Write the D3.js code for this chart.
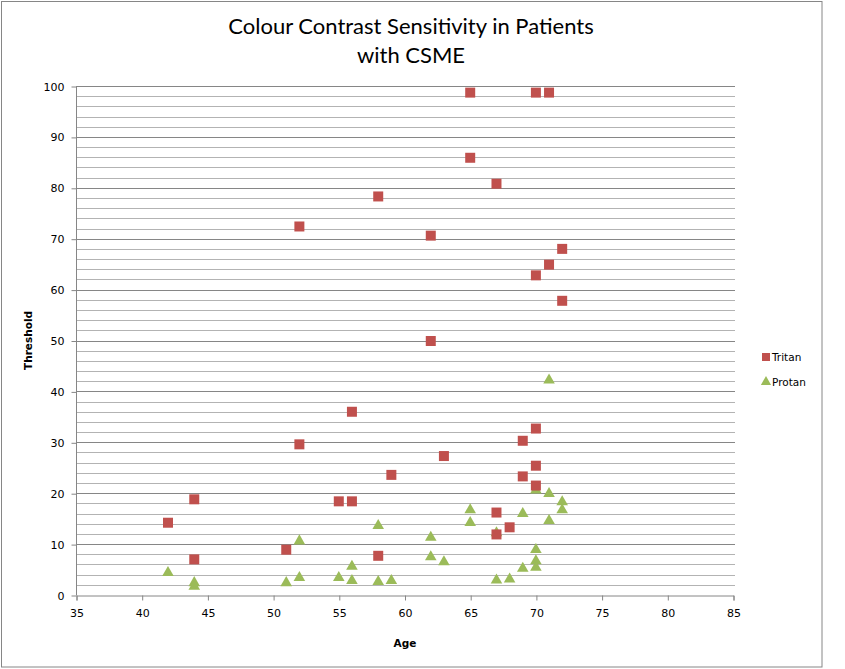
<!DOCTYPE html>
<html><head><meta charset="utf-8">
<script src="https://cdn.jsdelivr.net/npm/d3@7"></script>
<style>body{margin:0;background:#fff}svg{display:block}</style>
</head><body>
<svg id="c" width="845" height="669"></svg>
<script>
const titleLines = ["Colour Contrast Sensitivity in Patients", "with CSME"];
const xTicks = [35,40,45,50,55,60,65,70,75,80,85];
const yTicks = [0,10,20,30,40,50,60,70,80,90,100];
const seriesNames = ["Tritan", "Protan"];
const tritanAge = [42,44,44,51,52,52,55,56,56,58,58,59,62,62,63,65,65,67,67,67,68,69,69,70,71,70,71,72,72,70,70,70];
const tritanThr = [14.2,18.8,7.0,8.9,29.6,72.4,18.4,18.4,36.0,78.3,7.7,23.6,70.6,49.9,27.3,98.7,85.9,80.8,16.2,11.9,13.3,30.3,23.3,98.7,98.7,62.8,64.9,68.0,57.8,32.7,25.4,21.5];
const protanAge = [42,44,44,51,52,52,55,56,56,58,58,59,62,62,63,65,65,67,67,68,69,69,70,70,70,70,71,71,71,72,72];
const protanThr = [4.4,2.4,1.7,2.4,10.6,3.4,3.4,5.6,2.8,13.6,2.6,2.8,11.3,7.5,6.5,16.7,14.2,12.2,2.9,3.1,16.0,5.2,20.6,8.9,6.7,5.4,42.2,19.9,14.6,18.3,16.7];

(function(){
const svg = d3.select("#c");
const font = "'DejaVu Sans', Verdana, sans-serif";
const pLeft = 76, pRight = 733, pTop = 86, pBottom = 595;
const x = d3.scaleLinear().domain([35,85]).range([pLeft,pRight]);
const y = d3.scaleLinear().domain([0,100]).range([pBottom,pTop]);

svg.append("rect").attr("x",1.5).attr("y",1.5).attr("width",820.5).attr("height",665.5)
  .attr("fill","#fff").attr("stroke","#868686").attr("stroke-width",1);

const t = svg.append("text").attr("x",411).attr("y",34).attr("text-anchor","middle")
  .attr("font-family","Lato, 'Open Sans', sans-serif").attr("font-size",22).attr("fill","#000");
titleLines.forEach((l,i)=> t.append("tspan").attr("x",411).attr("dy", i?29:0).text(l));

const minor = d3.range(2,100,2).filter(v=>v%10!==0);
svg.append("g").selectAll("line").data(minor).join("line")
  .attr("x1",pLeft).attr("x2",pRight+2).attr("y1",d=>Math.round(y(d))+0.5).attr("y2",d=>Math.round(y(d))+0.5)
  .attr("stroke","#b3b3b3").attr("stroke-width",1);
svg.append("g").selectAll("line").data(yTicks.filter(v=>v>0)).join("line")
  .attr("x1",pLeft).attr("x2",pRight+2).attr("y1",d=>Math.round(y(d))+0.5).attr("y2",d=>Math.round(y(d))+0.5)
  .attr("stroke","#868686").attr("stroke-width",1);

const yAxis = d3.axisLeft(y).tickValues(yTicks).tickSize(5).tickPadding(7);
const gy = svg.append("g").attr("transform",`translate(${pLeft+0.5},0.5)`).call(yAxis);
const xAxis = d3.axisBottom(x).tickValues(xTicks).tickSize(5).tickPadding(9);
const gx = svg.append("g").attr("transform",`translate(0.5,${pBottom+0.5})`).call(xAxis);
[gx,gy].forEach(g=>{
  g.select(".domain").attr("stroke","#868686");
  g.selectAll(".tick line").attr("stroke","#868686");
  g.selectAll("text").attr("font-family",font).attr("font-size",11).attr("fill","#000");
});
gy.select(".domain").attr("d",`M0,${pTop}V${pBottom}`);

svg.append("text").attr("x",405).attr("y",647).attr("text-anchor","middle")
  .attr("font-family",font).attr("font-size",10.5).attr("font-weight","bold").text("Age");
svg.append("text").attr("transform",`translate(32,${(pTop+pBottom)/2}) rotate(-90)`).attr("text-anchor","middle")
  .attr("font-family",font).attr("font-size",10.5).attr("font-weight","bold").text("Threshold");

const tritan = tritanAge.map((a,i)=>({a, v:tritanThr[i]}));
const protan = protanAge.map((a,i)=>({a, v:protanThr[i]}));
const sq = d3.symbol().type(d3.symbolSquare).size(100);
const tri = d3.symbol().type(d3.symbolTriangle).size(58);
svg.append("g").selectAll("path").data(protan).join("path")
  .attr("d",tri).attr("transform",d=>`translate(${x(d.a)},${y(d.v)})`).attr("fill","#9BBB59");
svg.append("g").selectAll("path").data(tritan).join("path")
  .attr("d",sq).attr("transform",d=>`translate(${x(d.a)},${y(d.v)})`).attr("fill","#C0504D");

const lg = svg.append("g");
lg.append("path").attr("d",d3.symbol().type(d3.symbolSquare).size(64)()).attr("transform","translate(766,357)").attr("fill","#C0504D");
lg.append("path").attr("d",d3.symbol().type(d3.symbolTriangle).size(45)()).attr("transform","translate(766,382)").attr("fill","#9BBB59");
lg.append("text").attr("x",772).attr("y",361).attr("font-family",font).attr("font-size",10.5).text(seriesNames[0]);
lg.append("text").attr("x",772).attr("y",386).attr("font-family",font).attr("font-size",10.5).text(seriesNames[1]);
})();
</script>
</body></html>
